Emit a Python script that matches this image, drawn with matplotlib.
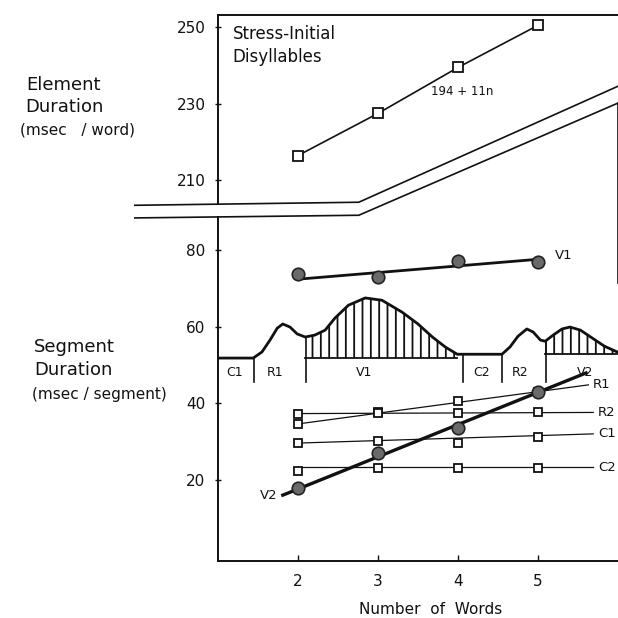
import matplotlib.pyplot as plt
import numpy as np

plt.rcParams['font.family'] = ['DejaVu Sans']
plt.rcParams['hatch.linewidth'] = 1.3

words = [2, 3, 4, 5]

# upper panel: element duration (msec / word)
element = [216.5, 227.5, 239.5, 250.5]
element_ticks = [210, 230, 250]
upper_shift = 111.8  # upper scale is drawn shifted onto the segment scale

# lower panel: segment duration (msec / segment)
seg_ticks = [20, 40, 60, 80]
v1 = [73.7, 73.0, 77.1, 76.9]
v2 = [17.9, 27.0, 33.5, 42.9]
r1 = [34.6, 37.7, 40.6, 42.9]
r2 = [37.2, 37.4, 37.4, 37.7]
c1 = [29.6, 30.1, 29.6, 31.2]
c2 = [22.3, 23.1, 23.1, 23.1]

# fitted lines: x0, y0, x1, y1
v1_fit = [2.0, 72.4, 5.0, 77.6]
v2_fit = [1.81, 16.0, 5.6, 47.9]
r1_fit = [2.0, 34.6, 5.63, 44.8]
r2_fit = [2.0, 37.3, 5.69, 37.6]
c1_fit = [2.0, 29.6, 5.69, 32.0]
c2_fit = [2.0, 23.3, 5.69, 23.3]

# schematic duration contour across C1 R1 V1 C2 R2 V2
wave_x = [1.0, 1.44, 1.55, 1.65, 1.74, 1.81, 1.90, 1.99, 2.09, 2.21,
          2.34, 2.46, 2.63, 2.84, 3.05, 3.30, 3.50, 3.68, 3.84, 3.99,
          4.55, 4.65, 4.75, 4.86, 4.94, 5.03, 5.09, 5.19, 5.30, 5.40,
          5.53, 5.68, 5.83, 5.99]
wave_y = [51.8, 51.8, 53.4, 56.5, 59.6, 60.7, 59.9, 58.1, 57.3, 57.8,
          59.1, 62.2, 65.6, 67.5, 66.9, 63.8, 60.7, 57.3, 54.7, 52.8,
          52.8, 54.7, 57.5, 59.4, 58.6, 56.5, 56.2, 57.8, 59.4, 59.9,
          59.1, 57.0, 54.9, 53.4]
segments = ['C1', 'R1', 'V1', 'C2', 'R2', 'V2']
seg_label_x = [1.21, 1.71, 2.83, 4.30, 4.78, 5.59]
seg_bounds = [1.45, 2.10, 4.06, 4.55, 5.10]
v1_span = [2.09, 3.99, 51.8]
v2_span = [5.09, 5.99, 52.8]

# axis break (double lines) in segment units
break_x = [-0.04, 2.76, 6.0]
break_hi = [91.7, 92.5, 122.8]
break_lo = [88.4, 89.1, 118.4]

ink = '#111111'

fig = plt.figure(figsize=(6.18, 6.18), dpi=100)
ax = fig.add_axes([218 / 618, 1 - 561 / 618, 400 / 618, 546 / 618])
ax.set_xlim(1, 6)
ax.set_ylim(-1.2, 141.4)

for s in ['left', 'right']:
    ax.spines[s].set_visible(False)
for s in ['top', 'bottom']:
    ax.spines[s].set_linewidth(1.4)
    ax.spines[s].set_color(ink)

# left axis drawn in two pieces around the break
y_hi_at_1 = np.interp(1, break_x, break_hi)
y_lo_at_1 = np.interp(1, break_x, break_lo)
ax.plot([1, 1], [y_hi_at_1, 141.4], color=ink, lw=1.4, clip_on=False)
ax.plot([1, 1], [-1.2, y_lo_at_1], color=ink, lw=1.4, clip_on=False)
ax.plot(break_x, break_hi, color=ink, lw=1.2, clip_on=False)
ax.plot(break_x, break_lo, color=ink, lw=1.2, clip_on=False)
ax.plot([6, 6], [break_lo[-1], 71.4], color=ink, lw=1.2, clip_on=False)

ticks = seg_ticks + [t - upper_shift for t in element_ticks]
labels = [str(t) for t in seg_ticks] + [str(t) for t in element_ticks]
ax.set_yticks(ticks)
ax.set_yticklabels(labels)
ax.set_xticks(words)
ax.tick_params(axis='y', direction='inout', length=4, width=1, labelsize=11, pad=7, colors=ink)
ax.tick_params(axis='x', direction='in', length=4, width=1, labelsize=11, pad=9, colors=ink)

# element duration
el_shifted = [e - upper_shift for e in element]
ax.plot(words, el_shifted, color=ink, lw=1.2, marker='s', ms=6.5,
        mfc='white', mec=ink, mew=1.3, zorder=4)
ax.text(1.18, 138.8, 'Stress-Initial\nDisyllables', fontsize=12,
        va='top', ha='left', linespacing=1.35, color=ink)
ax.text(4.05, 233.1 - upper_shift, '194 + 11n', fontsize=8.5,
        ha='center', va='center', color=ink)

# duration contour with hatched vowels
ax.plot(wave_x, wave_y, color=ink, lw=2.0, solid_joinstyle='round', zorder=3)
wx = np.array(wave_x)
wy = np.array(wave_y)
for x0, x1, base in [v1_span, v2_span]:
    m = (wx >= x0) & (wx <= x1)
    ax.fill_between(wx[m], base, wy[m], facecolor='none', edgecolor=ink,
                    hatch='||', linewidth=0, zorder=2)
    ax.plot([x0, x1], [base, base], color=ink, lw=1.3)
for b in seg_bounds:
    ax.plot([b, b], [45.5, np.interp(b, wave_x, wave_y)], color=ink, lw=1.2)
for name, x in zip(segments, seg_label_x):
    ax.text(x, 48.1, name, fontsize=9, ha='center', va='center', color=ink)

# segment duration series
for fit, vals, name in [(r1_fit, r1, 'R1'), (r2_fit, r2, 'R2'),
                        (c1_fit, c1, 'C1'), (c2_fit, c2, 'C2')]:
    ax.plot([fit[0], fit[2]], [fit[1], fit[3]], color=ink, lw=0.9, zorder=3)
    ax.plot(words, vals, ls='none', marker='s', ms=5.5, mfc='white',
            mec=ink, mew=1.3, zorder=4)
    ax.text(fit[2] + 0.06, fit[3], name, fontsize=9.5, ha='left',
            va='center', color=ink)

ax.plot([v1_fit[0], v1_fit[2]], [v1_fit[1], v1_fit[3]], color=ink, lw=2.0, zorder=5)
ax.plot(words, v1, ls='none', marker='o', ms=9, mfc='#6a6a6a', mec='#222222',
        mew=1.2, zorder=6)
ax.text(5.21, 78.7, 'V1', fontsize=9.5, ha='left', va='center', color=ink)

ax.plot([v2_fit[0], v2_fit[2]], [v2_fit[1], v2_fit[3]], color=ink, lw=2.4, zorder=5)
ax.plot(words, v2, ls='none', marker='o', ms=9, mfc='#6a6a6a', mec='#222222',
        mew=1.2, zorder=6)
ax.text(1.75, 15.8, 'V2', fontsize=9.5, ha='right', va='center', color=ink)

# side and bottom titles
fig.text(63 / 618, 1 - 85 / 618, 'Element', fontsize=13, ha='center', va='center', color=ink)
fig.text(64 / 618, 1 - 107 / 618, 'Duration', fontsize=13, ha='center', va='center', color=ink)
fig.text(78 / 618, 1 - 130 / 618, '(msec   / word)', fontsize=11, ha='center', va='center', color=ink)
fig.text(74 / 618, 1 - 347 / 618, 'Segment', fontsize=13, ha='center', va='center', color=ink)
fig.text(73 / 618, 1 - 370 / 618, 'Duration', fontsize=13, ha='center', va='center', color=ink)
fig.text(99 / 618, 1 - 395 / 618, '(msec / segment)', fontsize=11, ha='center', va='center', color=ink)
fig.text(431 / 618, 1 - 610 / 618, 'Number  of  Words', fontsize=11, ha='center', va='center', color=ink)

fig.savefig('out.png', dpi=100, facecolor='white')
